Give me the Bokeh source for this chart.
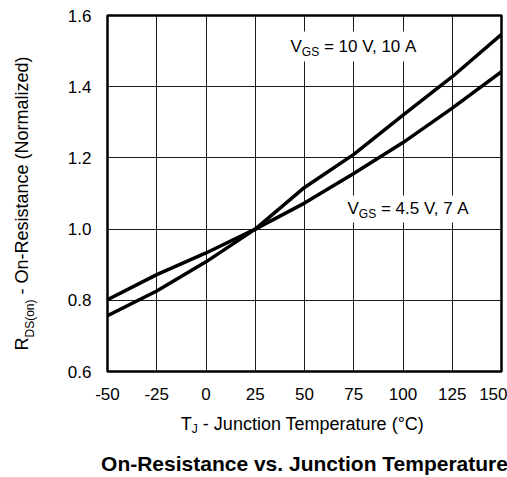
import math
from bokeh.plotting import figure
from bokeh.layouts import row, column
from bokeh.models import Range1d, Label, PrintfTickFormatter
from bokeh.embed import file_html
from bokeh.resources import INLINE

# ---- data ----
temp = [-50, -25, 0, 25, 50, 75, 100, 125, 150]
r_10v = [0.757, 0.826, 0.908, 1.0, 1.117, 1.21, 1.32, 1.428, 1.547]
r_45v = [0.802, 0.872, 0.933, 1.0, 1.073, 1.156, 1.243, 1.34, 1.442]
x_ticks = [-50, -25, 0, 25, 50, 75, 100, 125, 150]
y_ticks = [0.6, 0.8, 1.0, 1.2, 1.4, 1.6]

# ---- layout geometry (pixels, page coordinates) ----
W, H = 507, 477
LW = 40            # left strip width (y-axis title)
MH = 410           # main figure height
FL, FR, FT, FB = 107, 501, 15, 371
X0, X1, Y0, Y1 = -50, 150, 0.6, 1.6
FONT = "Liberation Sans"
NB = "\u00a0"

def px2x(px):
    return X0 + (px - FL) * (X1 - X0) / (FR - FL)

def px2y(py):
    return Y0 + (FB - py) * (Y1 - Y0) / (FB - FT)

CW = {' ': .278, NB: .278, '-': .333, '=': .584, '.': .278, ',': .278, '(': .333, ')': .333,
      '°': .4, 'A': .667, 'C': .722, 'D': .722, 'G': .778, 'J': .5, 'N': .722,
      'O': .778, 'R': .722, 'S': .667, 'T': .611, 'V': .667, 'a': .556, 'c': .5,
      'd': .556, 'e': .556, 'i': .222, 'l': .222, 'm': .833, 'n': .556, 'o': .556,
      'p': .556, 'r': .333, 's': .5, 't': .278, 'u': .556, 'z': .5}

def tw(s, size):
    return sum(CW.get(c, .556) for c in s) * size

# ---------------- main plot ----------------
p = figure(width=W - LW, height=MH, x_range=Range1d(X0, X1), y_range=Range1d(Y0, Y1),
           output_backend="svg", toolbar_location=None,
           min_border_left=FL - LW, min_border_right=W - FR,
           min_border_top=FT, min_border_bottom=MH - FB)
p.background_fill_color = "white"
p.border_fill_color = "white"
p.outline_line_color = "black"
p.outline_line_width = 2.5

p.xaxis.ticker = x_ticks
p.yaxis.ticker = y_ticks
p.xgrid.ticker = x_ticks
p.ygrid.ticker = y_ticks
p.grid.grid_line_color = "#1a1a1a"
p.grid.grid_line_width = 1
p.xaxis.formatter = PrintfTickFormatter(format="%d")
p.yaxis.formatter = PrintfTickFormatter(format="%.1f")
for ax in (p.xaxis, p.yaxis):
    ax.axis_line_color = None
    ax.major_tick_line_color = None
    ax.minor_tick_line_color = None
    ax.major_tick_out = 0
    ax.major_tick_in = 0
    ax.major_label_text_font = FONT
    ax.major_label_text_font_size = "17px"
    ax.major_label_text_color = "black"
p.xaxis.major_label_standoff = 16
p.yaxis.major_label_standoff = 16

# white boxes behind in-plot annotations
p.quad(left=[px2x(285), px2x(342)], right=[px2x(425), px2x(478)],
       top=[px2y(31), px2y(195)], bottom=[px2y(61), px2y(222)],
       fill_color="white", line_color=None)

p.line(temp, r_10v, line_color="black", line_width=3.5)
p.line(temp, r_45v, line_color="black", line_width=3.5)

def lab(f, x, y, text, size, angle=0.0, style="normal", align="left"):
    # (x, y) is the vertical middle of the text line
    f.add_layout(Label(x=x, y=y, text=text, text_font=FONT, angle=angle,
                       text_font_size=f"{size}px", text_color="black",
                       text_font_style=style,
                       text_baseline="middle", text_align=align))

def vgs_label(px, mid, sub_mid, rest):
    lab(p, px2x(px), px2y(mid), "V", 17)
    sx = px + tw("V", 17)
    lab(p, px2x(sx), px2y(sub_mid), "GS", 12)
    lab(p, px2x(sx + tw("GS", 12)), px2y(mid), rest, 17)

vgs_label(290, 45.5, 51, NB + "=" + NB + "10" + NB + "V," + NB + "10" + NB + "A")
vgs_label(347, 207.5, 213, NB + "=" + NB + "4.5" + NB + "V," + NB + "7" + NB + "A")

# ---------------- helper strip figures for titles ----------------
def strip(w, h, y0, y1, top=0, bottom=0):
    f = figure(width=w, height=h, x_range=Range1d(0, w), y_range=Range1d(y0, y1),
               output_backend="svg", toolbar_location=None, title_location=None,
               x_axis_location=None, y_axis_location=None,
               min_border=0, min_border_top=top, min_border_bottom=bottom)
    f.grid.visible = False
    f.outline_line_color = None
    f.background_fill_color = "white"
    f.border_fill_color = "white"
    return f

# left strip: rotated y-axis title; its frame lines up with the main frame
pl = strip(LW, MH, MH - FB, MH - FT, top=FT, bottom=MH - FB)
yl_rest = NB + "-" + NB + "On-Resistance (Normalized)"
sy = 350
lab(pl, 21, MH - sy, "R", 18, angle=math.pi / 2)
sy -= tw("R", 18)
lab(pl, 29, MH - sy, "DS(on)", 12, angle=math.pi / 2)
sy -= tw("DS(on)", 12)
lab(pl, 21, MH - sy, yl_rest, 18, angle=math.pi / 2)

# bottom strip: x-axis title and caption (y measured from page bottom)
pb = strip(W, H - MH, 0, H - MH)
xl_rest = NB + "-" + NB + "Junction Temperature (°C)"
tot = tw("T", 18) + tw("J", 12) + tw(xl_rest, 18)
sx = 303 - tot / 2
lab(pb, sx, H - 423, "T", 18)
sx += tw("T", 18)
lab(pb, sx, H - 428, "J", 12)
sx += tw("J", 12)
lab(pb, sx, H - 423, xl_rest, 18)
lab(pb, 304, H - 463, "On-Resistance vs. Junction Temperature", 21,
    style="bold", align="center")

layout = column(row(pl, p, spacing=0), pb, spacing=0)
open("out.html", "w").write(file_html(layout, INLINE))
